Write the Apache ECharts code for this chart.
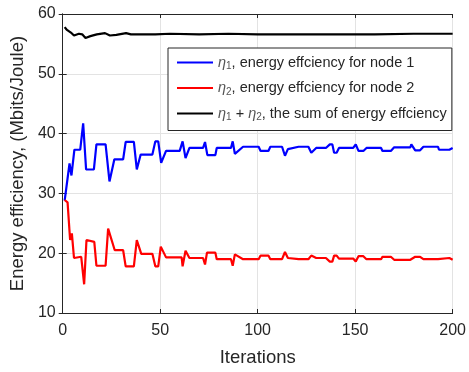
<!DOCTYPE html>
<html>
<head>
<meta charset="utf-8">
<script src="https://cdn.jsdelivr.net/npm/echarts@6/dist/echarts.min.js"></script>
<style>
  html, body { margin: 0; padding: 0; background: #fff; }
  #chart { width: 469px; height: 372px; }
</style>
</head>
<body>
<div id="chart"></div>
<script>
// vertices (iteration, value)
const eta1Iter = [1, 2, 3.5, 4.5, 6, 9, 10.5, 12, 16, 17.3, 22, 24, 26.5, 31, 32.3, 36.5, 38, 40, 46, 47.5, 49, 50.5, 53, 60, 61.5, 63, 65, 72, 73, 74.2, 78.3, 79, 86.3, 87.2, 88.3, 92.5, 100.5, 101.5, 105.5, 106.5, 112.5, 114, 115.5, 121, 126, 127.5, 130, 135, 137, 138.3, 139.2, 140.5, 141.7, 149, 150.3, 151.7, 154.2, 155.8, 163.3, 164, 168.3, 170, 178.3, 178.8, 180.8, 183.3, 185, 192.5, 193, 198.3, 199.2, 200];
const eta1Val = [28.8, 28.6, 35.0, 33.0, 37.3, 37.3, 41.7, 34.0, 34.0, 38.2, 38.2, 32.0, 35.7, 35.7, 38.6, 38.6, 34.0, 36.5, 36.5, 38.7, 38.7, 35.1, 37.1, 37.1, 38.7, 35.9, 37.6, 37.6, 38.6, 36.4, 36.4, 37.6, 37.6, 38.7, 36.6, 37.8, 37.8, 37.1, 37.1, 37.8, 37.8, 36.3, 37.4, 37.8, 37.8, 36.8, 37.6, 37.6, 38.2, 38.2, 36.8, 36.8, 37.6, 37.6, 38.2, 37.1, 37.1, 37.6, 37.6, 37.1, 37.1, 37.7, 37.7, 38.2, 37.2, 37.2, 37.8, 37.8, 37.3, 37.3, 37.6, 37.6];

const eta2Iter = [1, 2.5, 3.8, 4.7, 5.8, 9.5, 11, 12.2, 16.2, 17.3, 22, 23.3, 26.7, 31, 32.3, 36.5, 38, 40.3, 46, 47.5, 49, 50.3, 53, 61, 61.5, 63, 65, 72, 73, 74, 78.3, 79, 86.3, 87.2, 88.3, 92.5, 100.5, 101.5, 105.5, 106.5, 112.5, 114, 115.5, 121, 126, 127.5, 130, 135, 137, 138.3, 139.2, 140.5, 141.7, 149, 150.3, 151.7, 154.2, 155.8, 163.3, 164, 168.3, 170, 178.3, 178.8, 180.8, 183.3, 185, 192.5, 193, 198.3, 199.2, 200];
const eta2Val = [28.9, 28.5, 22.2, 23.3, 19.2, 19.4, 14.8, 22.2, 21.9, 17.9, 17.9, 24.1, 20.5, 20.5, 17.8, 17.8, 22.2, 19.9, 19.9, 17.8, 17.8, 21.1, 19.3, 19.3, 17.8, 20.4, 19.2, 19.2, 18.1, 20.1, 20.1, 19.0, 19.0, 17.9, 19.8, 19.0, 19.0, 19.6, 19.6, 19.0, 19.0, 20.2, 19.2, 19.0, 19.0, 19.6, 19.2, 19.2, 18.6, 18.6, 19.6, 19.6, 19.1, 19.1, 18.6, 19.5, 19.5, 19.0, 19.0, 19.4, 19.4, 18.9, 18.9, 18.6, 19.4, 19.4, 19.0, 19.0, 19.2, 19.2, 18.9, 18.9];

const sumIter = [1, 2, 4.2, 5.8, 8.3, 10, 11.7, 14.2, 17.5, 21.7, 24.2, 27.5, 32.5, 35, 40, 47.5, 55, 70, 85, 100, 120, 140, 160, 180, 200];
const sumVal = [57.8, 57.4, 56.9, 56.4, 56.7, 56.6, 56.0, 56.3, 56.6, 56.8, 56.4, 56.5, 56.8, 56.6, 56.6, 56.6, 56.7, 56.6, 56.7, 56.6, 56.6, 56.6, 56.6, 56.7, 56.7];

const xTicks = [0, 50, 100, 150, 200];
const yTicks = [10, 20, 30, 40, 50, 60];

const legendText = {
  eta1: '{i|η}{s|1}{t|, energy effciency for node 1}',
  eta2: '{i|η}{s|2}{t|, energy effciency for node 2}',
  sum: '{i|η}{s|1}{t| + }{i|η}{s|2}{t|, the sum of energy effciency}'
};

function pairs(xs, ys) {
  return xs.map((x, i) => [x, ys[i]]);
}

const chart = echarts.init(document.getElementById('chart'));
const ink = '#262626';
const font = 'Liberation Sans, Arial, Helvetica, sans-serif';

const frameAxis = {
  axisLine: { show: true, lineStyle: { color: ink, width: 1 } },
  axisTick: { show: true, inside: true, length: 4, lineStyle: { color: ink } },
  axisLabel: { show: false },
  splitLine: { show: false }
};

const option = {
  animation: false,
  textStyle: { fontFamily: font },
  grid: { left: 55, right: 14, top: 14, bottom: 55 },
  xAxis: [{
    type: 'value',
    min: xTicks[0], max: xTicks[xTicks.length - 1], interval: 50,
    name: 'Iterations',
    nameLocation: 'middle',
    nameGap: 35,
    nameTextStyle: { color: ink, fontSize: 18.5, fontFamily: font },
    axisLine: { lineStyle: { color: ink } },
    axisTick: { inside: true, length: 4, lineStyle: { color: ink } },
    axisLabel: { color: ink, fontSize: 16, margin: 10, fontFamily: font },
    splitLine: { show: true, lineStyle: { color: '#e3e3e3', width: 1 } }
  }, Object.assign({ type: 'value', position: 'top', min: 0, max: 200, interval: 50 }, frameAxis)],
  yAxis: [{
    type: 'value',
    min: yTicks[0], max: yTicks[yTicks.length - 1], interval: 10,
    name: 'Energy efficiency, (Mbits/Joule)',
    nameLocation: 'middle',
    nameGap: 34,
    nameTextStyle: { color: ink, fontSize: 18.5, fontFamily: font },
    axisLine: { show: true, lineStyle: { color: ink } },
    axisTick: { show: true, inside: true, length: 4, lineStyle: { color: ink } },
    axisLabel: { color: ink, fontSize: 16, margin: 7, fontFamily: font },
    splitLine: { show: true, lineStyle: { color: '#e3e3e3', width: 1 } }
  }, Object.assign({ type: 'value', position: 'right', min: 10, max: 60, interval: 10 }, frameAxis)],
  legend: {
    orient: 'vertical',
    left: 168,
    top: 48,
    width: 285,
    padding: [7, 5, 8, 9],
    itemGap: 9,
    itemWidth: 36,
    itemHeight: 2,
    icon: 'rect',
    backgroundColor: '#fff',
    borderColor: ink,
    borderWidth: 1,
    data: ['eta1', 'eta2', 'sum'],
    formatter: name => legendText[name],
    textStyle: {
      color: ink,
      rich: {
        i: { fontSize: 14.5, fontStyle: 'italic', color: '#555', lineHeight: 18, fontFamily: font },
        s: { fontSize: 10, color: '#555', lineHeight: 10, verticalAlign: 'bottom', fontFamily: font },
        t: { fontSize: 14.5, color: ink, lineHeight: 18, fontFamily: font }
      }
    }
  },
  series: [
    {
      name: 'eta1', type: 'line', data: pairs(eta1Iter, eta1Val),
      showSymbol: false, color: '#0000ff',
      lineStyle: { color: '#0000ff', width: 2.2 }
    },
    {
      name: 'eta2', type: 'line', data: pairs(eta2Iter, eta2Val),
      showSymbol: false, color: '#ff0000',
      lineStyle: { color: '#ff0000', width: 2.2 }
    },
    {
      name: 'sum', type: 'line', data: pairs(sumIter, sumVal),
      showSymbol: false, color: '#000000',
      lineStyle: { color: '#000000', width: 2.2 }
    }
  ]
};

chart.setOption(option);
</script>
</body>
</html>
